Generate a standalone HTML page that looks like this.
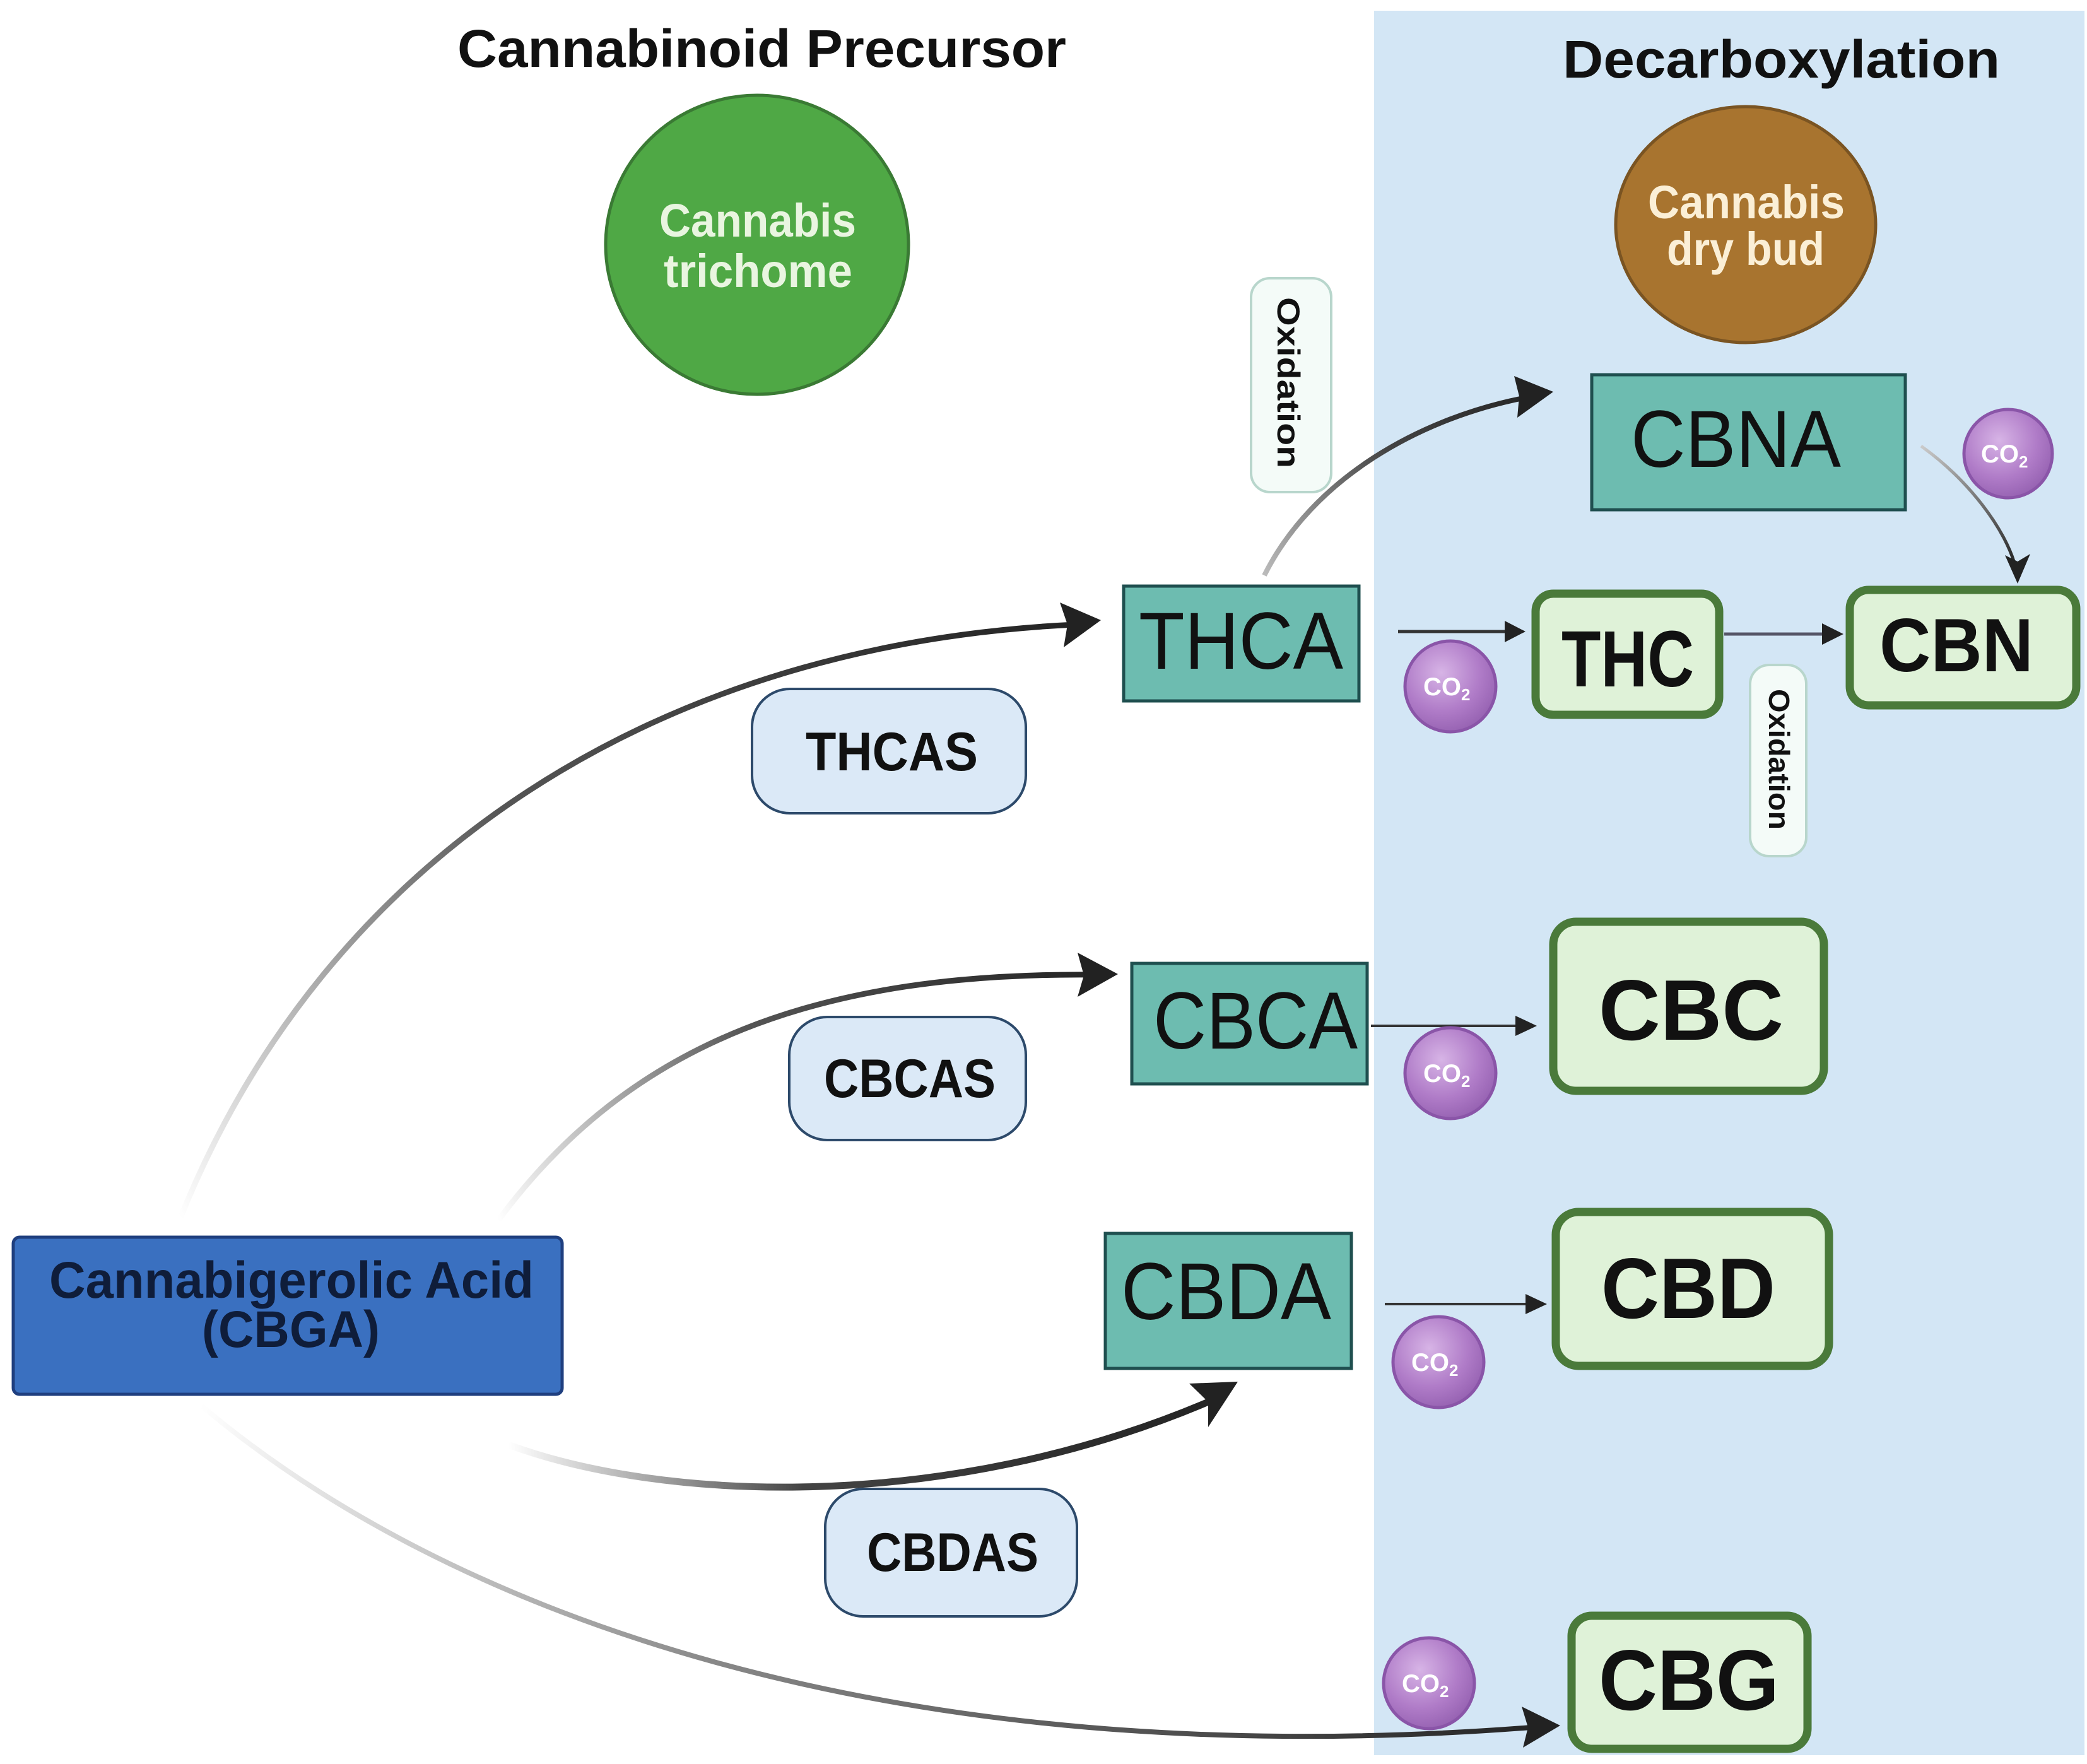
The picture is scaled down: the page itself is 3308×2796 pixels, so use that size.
<!DOCTYPE html>
<html><head><meta charset="utf-8"><style>
html,body{margin:0;padding:0;background:#fff;}
svg{display:block;}
text{font-family:"Liberation Sans",sans-serif;}
</style></head><body>
<svg width="3308" height="2796" viewBox="0 0 3308 2796" xmlns="http://www.w3.org/2000/svg">
<defs>
<radialGradient id="co2" cx="0.4" cy="0.35" r="0.7">
<stop offset="0" stop-color="#d7b4e6"/><stop offset="0.6" stop-color="#b07cc8"/><stop offset="1" stop-color="#9460b0"/>
</radialGradient>
<linearGradient id="g1" gradientUnits="userSpaceOnUse" x1="286" y1="1930" x2="1739" y2="986">
<stop offset="0" stop-color="#ffffff"/><stop offset="0.45" stop-color="#555"/><stop offset="1" stop-color="#222"/></linearGradient>
<linearGradient id="g2" gradientUnits="userSpaceOnUse" x1="790" y1="1934" x2="1771" y2="1544">
<stop offset="0" stop-color="#ffffff"/><stop offset="0.45" stop-color="#555"/><stop offset="1" stop-color="#222"/></linearGradient>
<linearGradient id="g3" gradientUnits="userSpaceOnUse" x1="806" y1="2290" x2="1951" y2="2195">
<stop offset="0" stop-color="#ffffff"/><stop offset="0.4" stop-color="#444"/><stop offset="1" stop-color="#222"/></linearGradient>
<linearGradient id="g4" gradientUnits="userSpaceOnUse" x1="318" y1="2227" x2="2470" y2="2735">
<stop offset="0" stop-color="#ffffff"/><stop offset="0.4" stop-color="#888"/><stop offset="1" stop-color="#222"/></linearGradient>
<linearGradient id="g5" gradientUnits="userSpaceOnUse" x1="2004" y1="912" x2="2460" y2="621">
<stop offset="0" stop-color="#bbb"/><stop offset="0.5" stop-color="#444"/><stop offset="1" stop-color="#222"/></linearGradient>
<linearGradient id="g6" gradientUnits="userSpaceOnUse" x1="3045" y1="705" x2="3195" y2="900">
<stop offset="0" stop-color="#ccc"/><stop offset="1" stop-color="#222"/></linearGradient>
</defs>

<rect x="2178" y="17" width="1126" height="2765" fill="#d3e6f5"/>

<text x="725" y="106" font-size="84" font-weight="bold" textLength="965" lengthAdjust="spacingAndGlyphs" fill="#111">Cannabinoid Precursor</text>
<text x="2477" y="123" font-size="84" font-weight="bold" textLength="693" lengthAdjust="spacingAndGlyphs" fill="#111">Decarboxylation</text>

<ellipse cx="1200" cy="388" rx="240" ry="237" fill="#4fa845" stroke="#3a7a34" stroke-width="5"/>
<text x="1045" y="375" font-size="74" font-weight="bold" textLength="312" lengthAdjust="spacingAndGlyphs" fill="#e9f5e0">Cannabis</text>
<text x="1052" y="455" font-size="74" font-weight="bold" textLength="299" lengthAdjust="spacingAndGlyphs" fill="#e9f5e0">trichome</text>

<ellipse cx="2767" cy="356" rx="206" ry="187" fill="#a8742f" stroke="#7a5422" stroke-width="5"/>
<text x="2612" y="346" font-size="74" font-weight="bold" textLength="312" lengthAdjust="spacingAndGlyphs" fill="#fbefd6">Cannabis</text>
<text x="2642" y="420" font-size="74" font-weight="bold" textLength="250" lengthAdjust="spacingAndGlyphs" fill="#fbefd6">dry bud</text>

<!-- curves -->
<path d="M286 1930 C520 1350 1050 1020 1705 990" fill="none" stroke="url(#g1)" stroke-width="9"/>
<polygon points="1745,983 1680,955 1692,990 1686,1026" fill="#222"/>
<path d="M790 1934 C1000 1650 1300 1540 1740 1545" fill="none" stroke="url(#g2)" stroke-width="9"/>
<polygon points="1772,1544 1708,1510 1718,1546 1708,1580" fill="#222"/>
<path d="M806 2290 C1050 2380 1500 2400 1920 2220" fill="none" stroke="url(#g3)" stroke-width="11"/>
<polygon points="1962,2190 1885,2193 1915,2222 1915,2262" fill="#222"/>
<path d="M318 2227 C700 2550 1400 2820 2440 2737" fill="none" stroke="url(#g4)" stroke-width="8"/>
<polygon points="2473,2735 2412,2705 2422,2738 2414,2770" fill="#222"/>
<path d="M2004 912 C2080 760 2250 660 2430 628" fill="none" stroke="url(#g5)" stroke-width="8"/>
<polygon points="2462,621 2400,596 2408,628 2405,662" fill="#222"/>
<path d="M3045 707 C3120 760 3180 840 3195 900" fill="none" stroke="url(#g6)" stroke-width="5"/>
<polygon points="3198,925 3178,880 3198,890 3218,878" fill="#222"/>

<!-- short arrows -->
<line x1="2216" y1="1001" x2="2390" y2="1001" stroke="#333" stroke-width="5"/>
<polygon points="2418,1001 2385,984 2385,1018" fill="#222"/>
<line x1="2733" y1="1005" x2="2895" y2="1005" stroke="#556" stroke-width="5"/>
<polygon points="2922,1005 2888,988 2888,1022" fill="#222"/>
<line x1="2173" y1="1626" x2="2410" y2="1626" stroke="#333" stroke-width="4"/>
<polygon points="2436,1626 2402,1610 2402,1642" fill="#222"/>
<line x1="2195" y1="2067" x2="2425" y2="2067" stroke="#333" stroke-width="4"/>
<polygon points="2452,2067 2418,2051 2418,2083" fill="#222"/>

<!-- Oxidation pills -->
<rect x="1983" y="441" width="127" height="339" rx="30" fill="#f4fbf8" stroke="#b8d6cc" stroke-width="4"/>
<text transform="translate(2025,471) rotate(90)" x="0" y="0" font-size="50" font-weight="bold" textLength="271" lengthAdjust="spacingAndGlyphs" fill="#111">Oxidation</text>
<rect x="2774" y="1054" width="89" height="303" rx="30" fill="#f4fbf8" stroke="#b8d6cc" stroke-width="4"/>
<text transform="translate(2804,1092) rotate(90)" x="0" y="0" font-size="46" font-weight="bold" textLength="223" lengthAdjust="spacingAndGlyphs" fill="#111">Oxidation</text>

<!-- teal boxes -->
<rect x="2523" y="594" width="497" height="214" fill="#6dbcb0" stroke="#1f4f4f" stroke-width="5"/>
<text x="2585" y="740" font-size="128" textLength="333" lengthAdjust="spacingAndGlyphs" fill="#111">CBNA</text>
<rect x="1781" y="929" width="373" height="182" fill="#6dbcb0" stroke="#1f4f4f" stroke-width="5"/>
<text x="1805" y="1060" font-size="128" textLength="324" lengthAdjust="spacingAndGlyphs" fill="#111">THCA</text>
<rect x="1794" y="1527" width="373" height="191" fill="#6dbcb0" stroke="#1f4f4f" stroke-width="5"/>
<text x="1828" y="1662" font-size="128" textLength="324" lengthAdjust="spacingAndGlyphs" fill="#111">CBCA</text>
<rect x="1752" y="1955" width="390" height="214" fill="#6dbcb0" stroke="#1f4f4f" stroke-width="5"/>
<text x="1777" y="2091" font-size="128" textLength="333" lengthAdjust="spacingAndGlyphs" fill="#111">CBDA</text>

<!-- green boxes -->
<rect x="2434" y="941" width="291" height="192" rx="28" fill="#dff2d8" stroke="#4a7a3a" stroke-width="13"/>
<text x="2475" y="1088" font-size="126" font-weight="bold" textLength="210" lengthAdjust="spacingAndGlyphs" fill="#111">THC</text>
<rect x="2932" y="935" width="359" height="183" rx="30" fill="#dff2d8" stroke="#4a7a3a" stroke-width="13"/>
<text x="2979" y="1064" font-size="120" font-weight="bold" textLength="244" lengthAdjust="spacingAndGlyphs" fill="#111">CBN</text>
<rect x="2462" y="1461" width="429" height="268" rx="36" fill="#dff2d8" stroke="#4a7a3a" stroke-width="13"/>
<text x="2534" y="1648" font-size="136" font-weight="bold" textLength="293" lengthAdjust="spacingAndGlyphs" fill="#111">CBC</text>
<rect x="2466" y="1921" width="433" height="244" rx="36" fill="#dff2d8" stroke="#4a7a3a" stroke-width="13"/>
<text x="2538" y="2089" font-size="136" font-weight="bold" textLength="276" lengthAdjust="spacingAndGlyphs" fill="#111">CBD</text>
<rect x="2491" y="2561" width="374" height="211" rx="32" fill="#dff2d8" stroke="#4a7a3a" stroke-width="13"/>
<text x="2534" y="2710" font-size="136" font-weight="bold" textLength="286" lengthAdjust="spacingAndGlyphs" fill="#111">CBG</text>

<!-- enzyme pills -->
<rect x="1192" y="1092" width="434" height="197" rx="60" fill="#dbe9f7" stroke="#2d4a6b" stroke-width="4"/>
<text x="1277" y="1221" font-size="86" font-weight="bold" textLength="273" lengthAdjust="spacingAndGlyphs" fill="#111">THCAS</text>
<rect x="1251" y="1612" width="375" height="195" rx="60" fill="#dbe9f7" stroke="#2d4a6b" stroke-width="4"/>
<text x="1306" y="1739" font-size="86" font-weight="bold" textLength="272" lengthAdjust="spacingAndGlyphs" fill="#111">CBCAS</text>
<rect x="1308" y="2360" width="399" height="202" rx="60" fill="#dbe9f7" stroke="#2d4a6b" stroke-width="4"/>
<text x="1374" y="2490" font-size="86" font-weight="bold" textLength="272" lengthAdjust="spacingAndGlyphs" fill="#111">CBDAS</text>

<!-- CBGA -->
<rect x="21" y="1961" width="870" height="249" rx="10" fill="#3a70c0" stroke="#1f3f7f" stroke-width="5"/>
<text x="78" y="2057" font-size="82" font-weight="bold" textLength="768" lengthAdjust="spacingAndGlyphs" fill="#0f1d3a">Cannabigerolic Acid</text>
<text x="320" y="2135" font-size="82" font-weight="bold" textLength="282" lengthAdjust="spacingAndGlyphs" fill="#0f1d3a">(CBGA)</text>

<!-- CO2 bubbles -->
<g font-size="40" font-weight="bold" fill="#fff">
<circle cx="3183" cy="719" r="70" fill="url(#co2)" stroke="#8a55a8" stroke-width="5"/>
<text x="3140" y="733">CO<tspan font-size="26" dy="8">2</tspan></text>
<circle cx="2299" cy="1088" r="72" fill="url(#co2)" stroke="#8a55a8" stroke-width="5"/>
<text x="2256" y="1102">CO<tspan font-size="26" dy="8">2</tspan></text>
<circle cx="2299" cy="1701" r="72" fill="url(#co2)" stroke="#8a55a8" stroke-width="5"/>
<text x="2256" y="1715">CO<tspan font-size="26" dy="8">2</tspan></text>
<circle cx="2280" cy="2159" r="72" fill="url(#co2)" stroke="#8a55a8" stroke-width="5"/>
<text x="2237" y="2173">CO<tspan font-size="26" dy="8">2</tspan></text>
<circle cx="2265" cy="2668" r="72" fill="url(#co2)" stroke="#8a55a8" stroke-width="5"/>
<text x="2222" y="2682">CO<tspan font-size="26" dy="8">2</tspan></text>
</g>
</svg>
</body></html>
